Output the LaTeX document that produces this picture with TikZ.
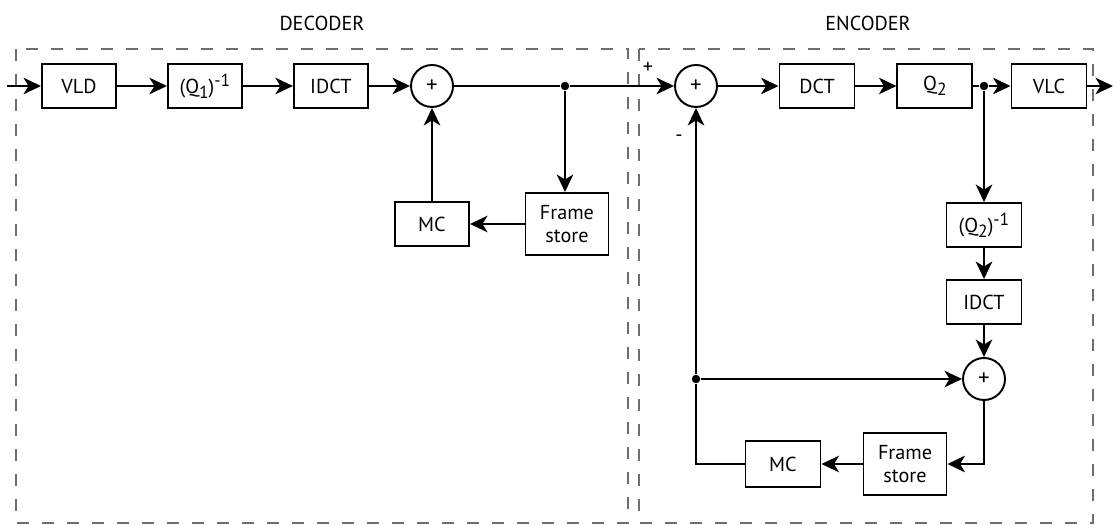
\documentclass[tikz,border=0pt]{standalone}
\usepackage{fontspec}
\setmainfont{PT Sans}
\usetikzlibrary{arrows.meta, positioning, calc}
\definecolor{cline}{RGB}{0, 0, 0}
\definecolor{cgrp}{RGB}{110, 110, 110}
\newcommand{\lowidx}[1]{\raisebox{-0.45ex}{\fontsize{10}{10}\selectfont #1}}
\newcommand{\highidx}[1]{\raisebox{0.75ex}{\fontsize{10}{10}\selectfont #1}}
\tikzset{
  blk/.style={draw=cline, line width=1.1pt, align=center, inner sep=2pt,
              minimum width=14.8mm, minimum height=8.8mm,
              font=\fontsize{11.5}{13.5}\selectfont},
  store/.style={blk, minimum width=16.6mm, minimum height=12.4mm},
  sum/.style={draw=cline, line width=1.1pt, circle, minimum size=8.4mm, inner sep=0pt,
              font=\fontsize{13}{15}\selectfont},
  dot/.style={circle, fill=cline, inner sep=0pt, minimum size=1.7mm},
  arr/.style={-{Stealth[length=3.5mm, width=3.3mm, inset=1mm]}, line width=1.3pt, draw=cline},
  wire/.style={line width=1.3pt, draw=cline},
  grp/.style={draw=cgrp, line width=0.6pt, dash pattern=on 2.4mm off 2.6mm},
  lab/.style={font=\fontsize{11.5}{13.5}\selectfont},
}
\begin{document}
\begin{tikzpicture}[x=0.2mm, y=-0.2mm, node distance=10mm]
\useasboundingbox (0,0) rectangle (1117,525);

% ---------- decoder ----------
\coordinate (din) at (7,86);
\node[blk] (vld) at (79,86) {VLD};
\node[blk, right=of vld] (qinv1) {(Q\lowidx{1})\highidx{-1}};
\node[blk, right=of qinv1] (idct1) {IDCT};
\node[sum] (sum1) at (432,86) {+};
\node[dot] (dot1) at (565,86) {};
\node[store] (fs1) at (567,224) {Frame\\store};
\node[blk] (mc1) at (432,224) {MC};

% ---------- encoder ----------
\node[sum] (sum2) at (696,86) {+};
\node[blk, minimum width=15mm] (dct) at (817,86) {DCT};
\node[blk, minimum width=15mm, right=8.2mm of dct] (q2) {Q\lowidx{2}};
\node[dot] (dot2) at (984,86) {};
\node[blk, minimum width=15mm] (vlc) at (1049,86) {VLC};
\coordinate (eout) at (1113,86);
\node[blk, minimum width=15mm] (qinv2) at (984,225) {(Q\lowidx{2})\highidx{-1}};
\node[blk, minimum width=15mm] (idct2) at (984,302) {IDCT};
\node[sum] (sum3) at (984,379) {+};
\node[dot] (dot3) at (696,379) {};
\node[store] (fs2) at (905,464) {Frame\\store};
\node[blk, minimum width=15mm, minimum height=9.2mm] (mc2) at (783,464) {MC};

\node[lab] (plus) at (648,68) {+};
\node[lab] (minus) at (679,138) {-};

% ---------- groups ----------
\draw[grp] (16,49) rectangle (628,523);
\draw[grp] (639,49) rectangle (1093,523);
\node[lab] (declab) at (322,23) {DECODER};
\node[lab] (enclab) at (868,23) {ENCODER};

% ---------- connectors ----------
\draw[arr] (din) -- (vld);
\draw[arr] (vld) -- (qinv1);
\draw[arr] (qinv1) -- (idct1);
\draw[arr] (idct1) -- (sum1);
\draw[wire] (sum1) -- (dot1);
\draw[arr] (dot1) -- (sum2);
\draw[arr] (dot1) -- (dot1 |- fs1.north);
\draw[arr] (fs1) -- (mc1);
\draw[arr] (mc1) -- (sum1);

\draw[arr] (sum2) -- (dct);
\draw[arr] (dct) -- (q2);
\draw[wire] (q2) -- (dot2);
\draw[arr] (dot2) -- (vlc);
\draw[arr] (vlc) -- (eout);
\draw[arr] (dot2) -- (qinv2);
\draw[arr] (qinv2) -- (idct2);
\draw[arr] (idct2) -- (sum3);
\draw[arr] (dot3) -- (sum3);
\draw[arr] (sum3) |- (fs2);
\draw[arr] (fs2) -- (mc2);
\draw[wire] (mc2) -| (dot3);
\draw[arr] (dot3) -- (sum2);

\end{tikzpicture}
\end{document}
